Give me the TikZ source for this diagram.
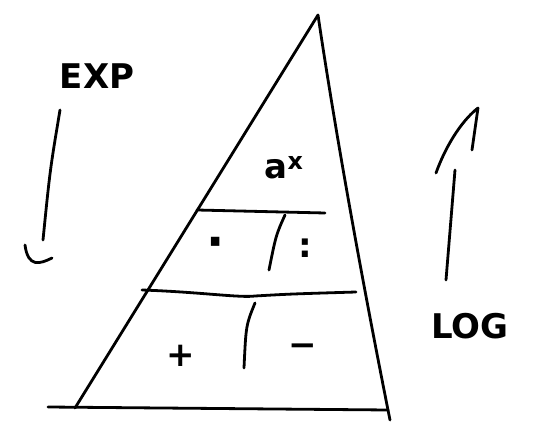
\documentclass[tikz,border=0pt]{standalone}
\usepackage{fontspec}
\setmainfont{DejaVu Sans}
\begin{document}
\begin{tikzpicture}[x=1pt,y=-1pt,
  pen/.style={line width=2.8pt,line cap=round,line join=round,black},
  lbl/.style={inner sep=0pt,font=\fontsize{34}{34}\selectfont\bfseries}]
\useasboundingbox[fill=white] (0,0) rectangle (536,425);
% triangle
\coordinate (apex) at (318,15);
\coordinate (bl) at (75,408);
\coordinate (br) at (390,420);
\draw[pen] (bl) -- (apex);
\draw[pen] (apex) .. controls (335,130) and (362,280) .. (br);
% horizontal lines
\coordinate (h1a) at (197,210); \coordinate (h1b) at (325,213);
\coordinate (h2a) at (142,290); \coordinate (h2b) at (356,292);
\coordinate (b0a) at (48,407);  \coordinate (b0b) at (388,410);
\draw[pen] (h1a) -- (h1b);
\draw[pen] (h2a) .. controls (200,292) and (240,298) .. (255,296) .. controls (290,294) .. (h2b);
\draw[pen] (b0a) -- (b0b);
% dividers
\coordinate (d1a) at (285,215); \coordinate (d1b) at (269,270);
\coordinate (d2a) at (255,303); \coordinate (d2b) at (244,368);
\draw[pen] (d1a) .. controls (276,235) .. (d1b);
\draw[pen] (d2a) .. controls (246,325) .. (d2b);
% labels
\node[lbl] (ax) at (284,168) {a\textsuperscript{x}};
\node[lbl,font=\fontsize{48}{48}\selectfont\bfseries] (dot) at (216,248) {·};
\node[lbl] (colon) at (305,248) {:};
\node[lbl] (plus) at (181,356) {+};
\node[lbl] (minus) at (303,350) {−};
\node[lbl] (exp) at (97,76) {EXP};
\node[lbl] (log) at (470,326) {LOG};
% EXP arrow
\coordinate (e1) at (60,110);
\coordinate (e2) at (43,240);
\draw[pen] (e1) .. controls (50,170) .. (e2);
\draw[pen] (25,245) .. controls (28,268) and (40,264) .. (52,258);
% LOG arrow
\coordinate (l1) at (446,280);
\coordinate (l2) at (455,170);
\draw[pen] (l1) -- (l2);
\draw[pen] (436,173) .. controls (448,140) and (465,118) .. (478,108) -- (472,150);
\end{tikzpicture}
\end{document}
